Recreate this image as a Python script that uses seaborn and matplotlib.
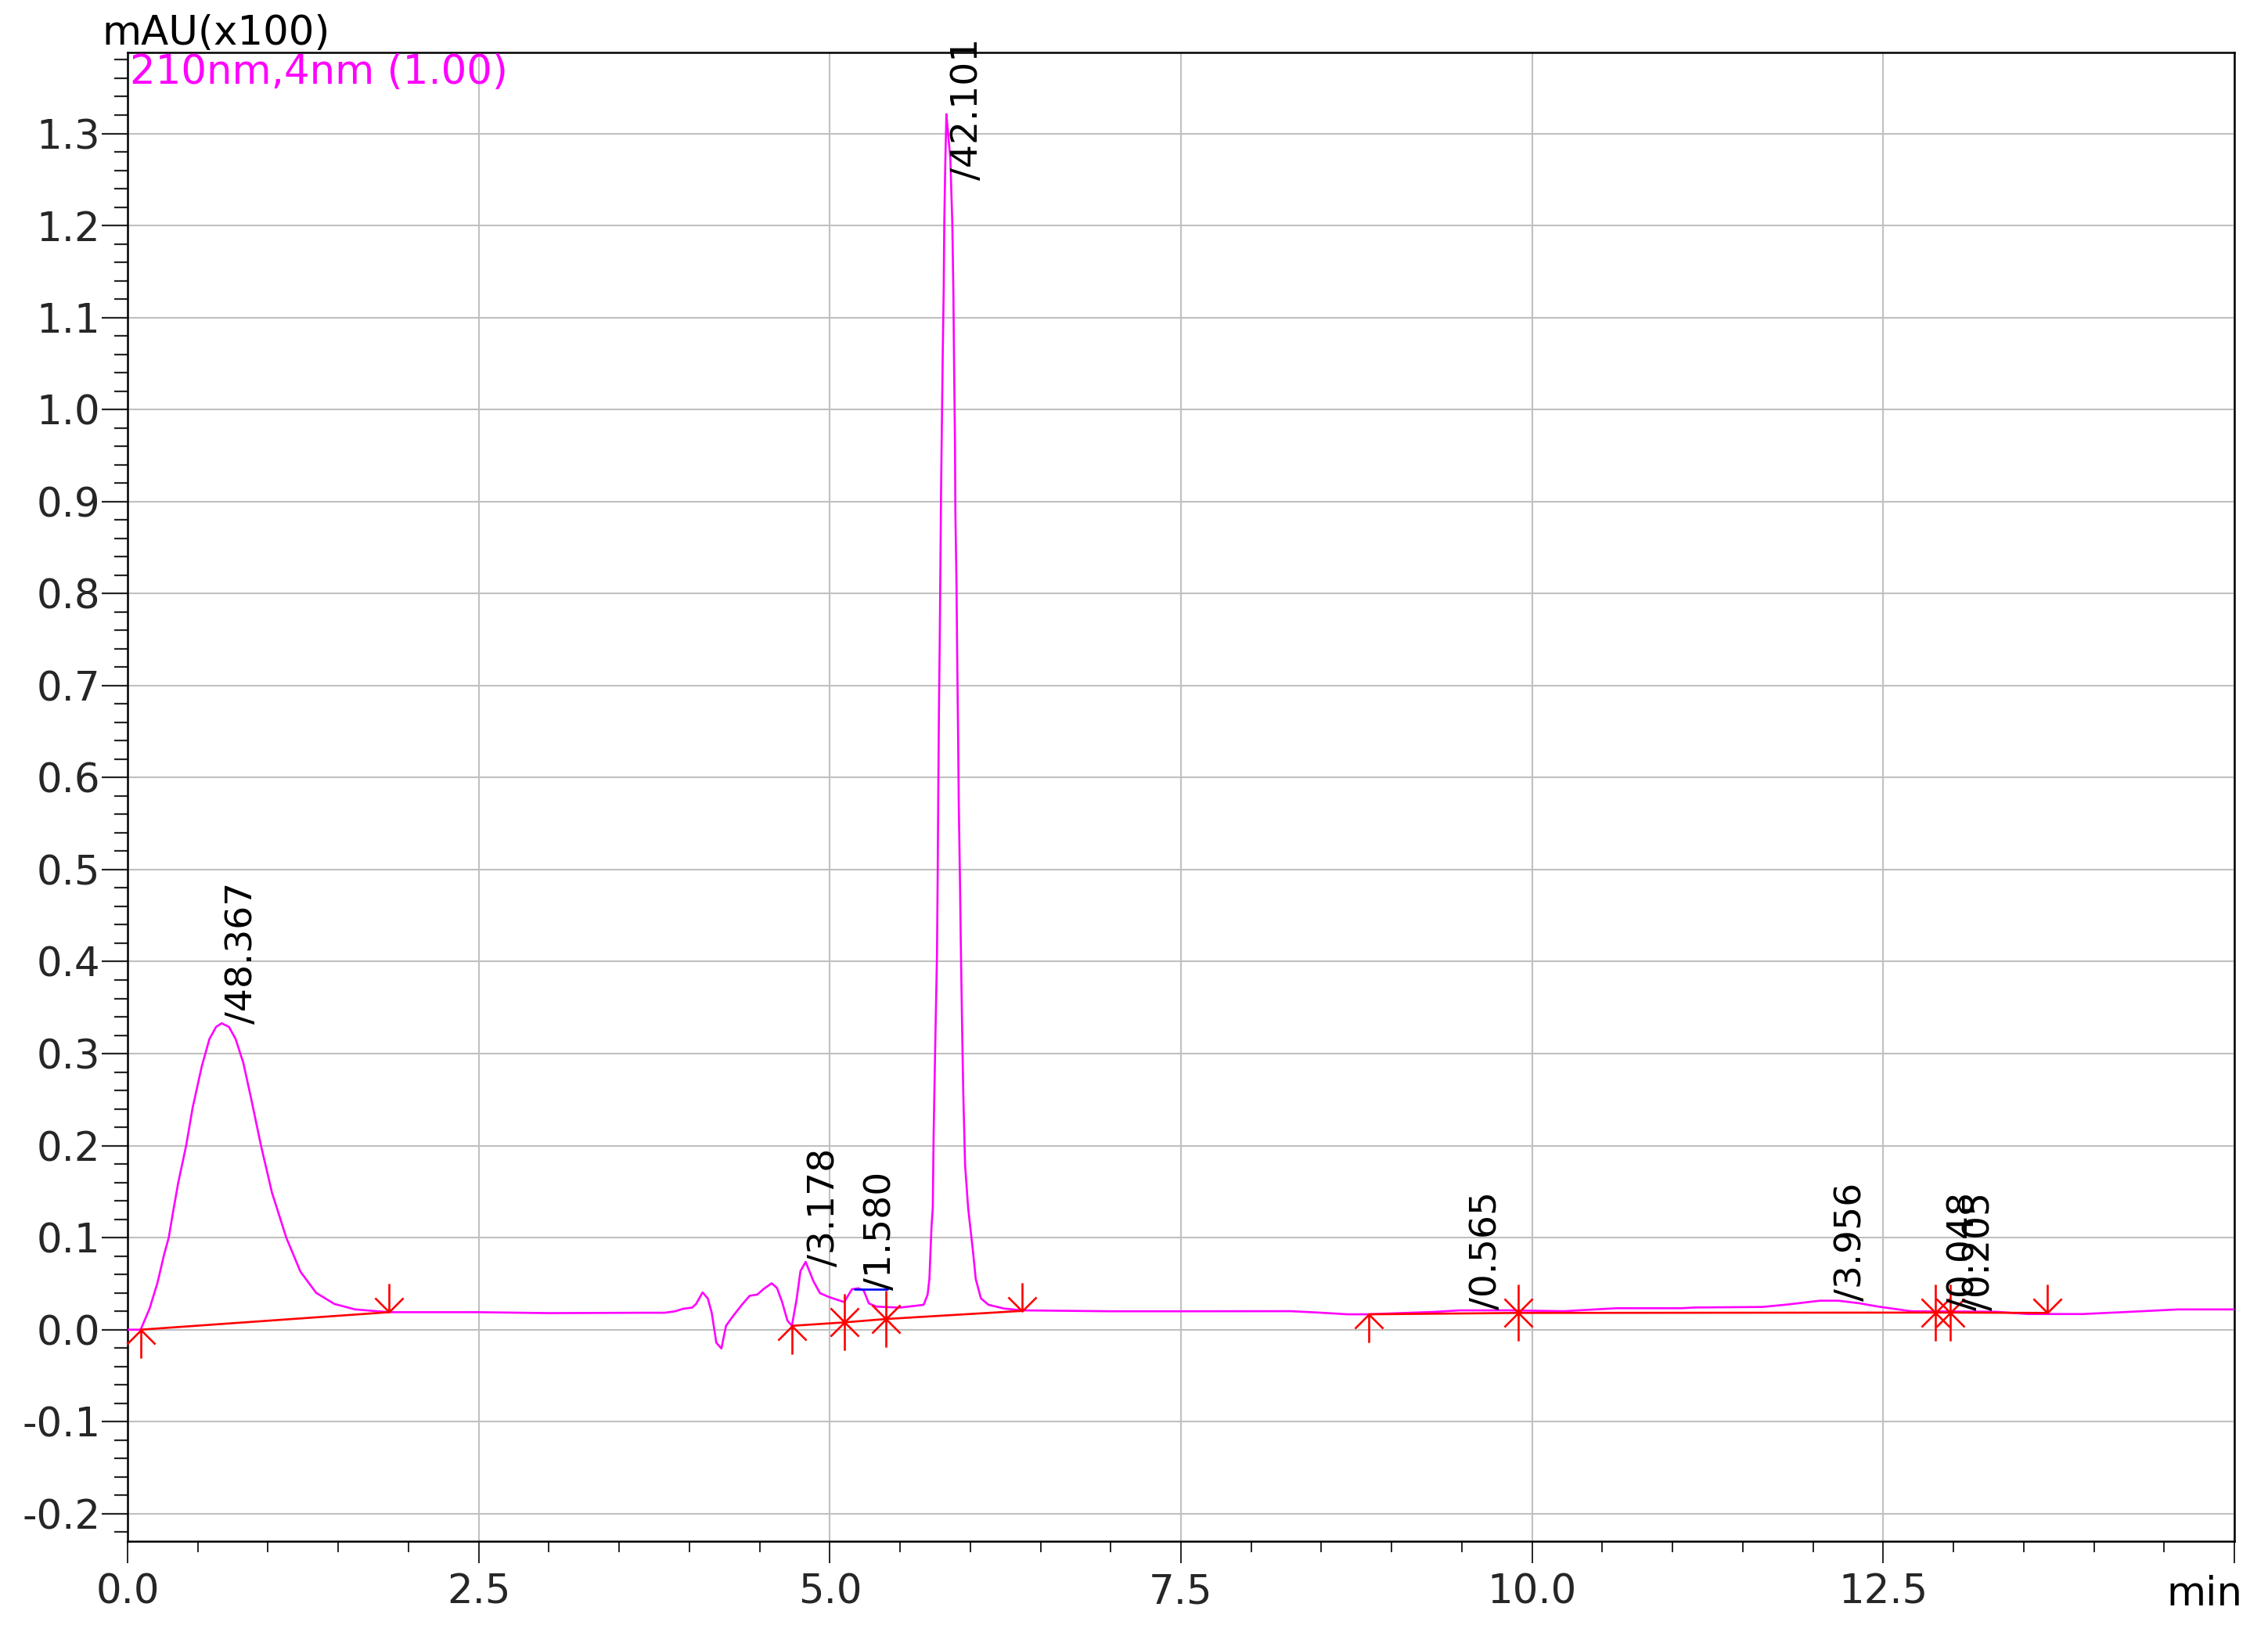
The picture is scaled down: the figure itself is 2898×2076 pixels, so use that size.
import numpy as np
import pandas as pd
import matplotlib
matplotlib.use('Agg')
import matplotlib.pyplot as plt
from matplotlib.path import Path
from matplotlib.ticker import MultipleLocator, FormatStrFormatter
import seaborn as sns

# --- chromatogram trace, 210nm (time in min, signal in mAU x100) ---
time_min = [0.000, 0.093, 0.157, 0.213, 0.259, 0.293, 0.324, 0.361, 0.417, 0.463,
            0.528, 0.583, 0.630, 0.670, 0.722, 0.769, 0.824, 0.880, 0.950, 1.028,
            1.130, 1.231, 1.343, 1.472, 1.620, 1.861, 2.500, 3.000, 3.658, 3.825,
            3.899, 3.955, 4.020, 4.048, 4.094, 4.131, 4.159, 4.192, 4.228, 4.261,
            4.308, 4.373, 4.429, 4.484, 4.531, 4.586, 4.624, 4.661, 4.698, 4.730,
            4.763, 4.791, 4.828, 4.884, 4.930, 4.995, 5.102, 5.158, 5.204, 5.241,
            5.278, 5.334, 5.500, 5.668, 5.696, 5.709, 5.724, 5.733, 5.739, 5.750,
            5.763, 5.768, 5.772, 5.777, 5.783, 5.788, 5.792, 5.798, 5.804, 5.811,
            5.815, 5.822, 5.830, 5.839, 5.858, 5.872, 5.880, 5.885, 5.891, 5.894,
            5.902, 5.907, 5.913, 5.918, 5.926, 5.933, 5.941, 5.950, 5.963, 5.985,
            6.020, 6.039, 6.076, 6.130, 6.240, 6.367, 7.000, 7.500, 8.001, 8.280,
            8.465, 8.688, 8.836, 9.040, 9.300, 9.486, 9.856, 10.228, 10.600, 11.060,
            11.160, 11.640, 11.810, 12.050, 12.180, 12.330, 12.460, 12.700, 13.300, 13.530,
            13.920, 14.200, 14.600, 15.000]
signal = [0.000, 0.000, 0.023, 0.051, 0.081, 0.100, 0.128, 0.160, 0.200, 0.241,
          0.286, 0.316, 0.329, 0.333, 0.329, 0.316, 0.290, 0.251, 0.200, 0.149,
          0.100, 0.063, 0.040, 0.028, 0.022, 0.019, 0.019, 0.018, 0.0184, 0.0184,
          0.020, 0.0227, 0.024, 0.028, 0.0405, 0.034, 0.0184, -0.0142, -0.0204, 0.0042,
          0.0142, 0.0269, 0.0368, 0.0382, 0.0445, 0.0504, 0.0453, 0.0297, 0.0099, 0.0042,
          0.0326, 0.0637, 0.0737, 0.0524, 0.0397, 0.0354, 0.030, 0.044, 0.045, 0.0427,
          0.0285, 0.025, 0.024, 0.027, 0.038, 0.055, 0.112, 0.132, 0.211, 0.305,
          0.407, 0.494, 0.581, 0.675, 0.754, 0.840, 0.911, 0.990, 1.061, 1.132,
          1.203, 1.266, 1.321, 1.305, 1.273, 1.203, 1.124, 1.045, 0.966, 0.888,
          0.809, 0.730, 0.651, 0.573, 0.494, 0.415, 0.337, 0.258, 0.179, 0.132,
          0.084, 0.055, 0.034, 0.027, 0.023, 0.021, 0.020, 0.020, 0.0201, 0.0201,
          0.0187, 0.0167, 0.0167, 0.0179, 0.0193, 0.021, 0.021, 0.0201, 0.0233, 0.0233,
          0.0241, 0.0247, 0.0272, 0.0315, 0.0315, 0.0287, 0.0252, 0.020, 0.0195, 0.017,
          0.017, 0.019, 0.022, 0.022]

# --- integration baselines and peak start / end / split marks ---
base_group = [1, 1, 2, 2, 2, 2, 3, 3, 3, 3, 3]
base_time = [0.093, 1.861, 4.730, 5.102, 5.399, 6.367, 8.836, 9.902, 12.870, 12.980, 13.670]
base_level = [0.000, 0.019, 0.0042, 0.0079, 0.0116, 0.0204, 0.0167, 0.0182, 0.0186, 0.0186, 0.0182]
base_mark = ['up', 'down', 'up', 'star', 'star', 'down', 'up', 'star', 'star', 'star', 'down']

# small blue segment over the 1.580 peak
blue_time = [5.176, 5.408]
blue_level = [0.044, 0.044]

# --- peak labels (area %) ---
peak_rt = [0.670, 4.817, 5.216, 5.835, 9.531, 12.130, 12.932, 13.044]
peak_area = ['48.367', '3.178', '1.580', '42.101', '0.565', '3.956', '0.048', '0.205']
label_level = [0.332, 0.069, 0.043, 1.249, 0.0215, 0.031, 0.021, 0.021]

x_ticks = [0.0, 2.5, 5.0, 7.5, 10.0, 12.5, 15.0]
x_tick_labels = ['0.0', '2.5', '5.0', '7.5', '10.0', '12.5', '']

trace = pd.DataFrame({'time': time_min, 'signal': signal})
base = pd.DataFrame({'time': base_time, 'level': base_level,
                     'group': base_group, 'mark': base_mark})

sns.set_style('white')
plt.rcParams['font.family'] = ['DejaVu Sans']
plt.rcParams['axes.unicode_minus'] = False

fig = plt.figure(figsize=(28.98, 20.76), dpi=100)
ax = fig.add_axes([0.05625, 0.0515, 0.9289, 0.9162])

ax.grid(True, which='major', color='#c0c0c0', lw=1.5, zorder=0)
ax.set_axisbelow(True)

sns.lineplot(data=trace, x='time', y='signal', sort=False, estimator=None,
             color='#ff00ff', lw=1.9, ax=ax, zorder=3)
sns.lineplot(data=base, x='time', y='level', units='group', estimator=None,
             sort=False, color='#ff0000', lw=1.9, ax=ax, zorder=4)
ax.plot(blue_time, blue_level, color='#0000ff', lw=1.9, zorder=4)

# marker shapes used by the integrator
M, L = Path.MOVETO, Path.LINETO
up_arrow = Path([(0, 0), (0, -1), (-0.5, -0.5), (0, 0), (0.5, -0.5)], [M, L, M, L, L])
down_arrow = Path([(0, 0), (0, 1), (-0.5, 0.5), (0, 0), (0.5, 0.5)], [M, L, M, L, L])
star = Path([(0, -1), (0, 1), (-0.5, -0.5), (0.5, 0.5), (-0.5, 0.5), (0.5, -0.5)],
            [M, L, M, L, M, L])
shapes = {'up': up_arrow, 'down': down_arrow, 'star': star}
for kind, shape in shapes.items():
    sub = base[base['mark'] == kind]
    ax.plot(sub['time'], sub['level'], ls='none', marker=shape, ms=52,
            mec='#ff0000', mew=1.9, fillstyle='none', zorder=5, clip_on=False)

for rt, area, lev in zip(peak_rt, peak_area, label_level):
    ax.annotate('/' + area, xy=(rt, lev), xytext=(18.75, 0), textcoords='offset points',
                rotation=90, ha='center', va='bottom', fontsize=34, color='black',
                zorder=6, annotation_clip=False)

ax.set_xlim(0, 15)
ax.set_ylim(-0.230, 1.388)
ax.set_xticks(x_ticks)
ax.set_xticklabels(x_tick_labels)
ax.xaxis.set_minor_locator(MultipleLocator(0.5))
ax.yaxis.set_major_locator(MultipleLocator(0.1))
ax.yaxis.set_minor_locator(MultipleLocator(0.02))
ax.yaxis.set_major_formatter(FormatStrFormatter('%.1f'))
ax.tick_params(axis='y', which='major', direction='out', length=24, width=1.6,
               labelsize=37, pad=1, left=True)
ax.tick_params(axis='y', which='minor', direction='out', length=12, width=1.6, left=True)
ax.tick_params(axis='x', which='major', direction='out', length=20, width=1.4,
               labelsize=37, pad=9, bottom=True)
ax.tick_params(axis='x', which='minor', direction='out', length=10, width=1.4, bottom=True)
ax.set_xlabel('')
ax.set_ylabel('')
for sp in ax.spines.values():
    sp.set_color('black')
    sp.set_linewidth(1.8)
    sp.set_visible(True)

ax.text(-0.0123, 1.0053, 'mAU(x100)', transform=ax.transAxes, ha='left', va='baseline',
        fontsize=37, color='black')
ax.text(0.001, 0.979, '210nm,4nm (1.00)', transform=ax.transAxes, ha='left',
        va='baseline', fontsize=37, color='#ff00ff')
ax.text(1.0037, -0.0226, 'min', transform=ax.transAxes, ha='right', va='top',
        fontsize=37, color='black')

fig.savefig('out.png', dpi=100)
